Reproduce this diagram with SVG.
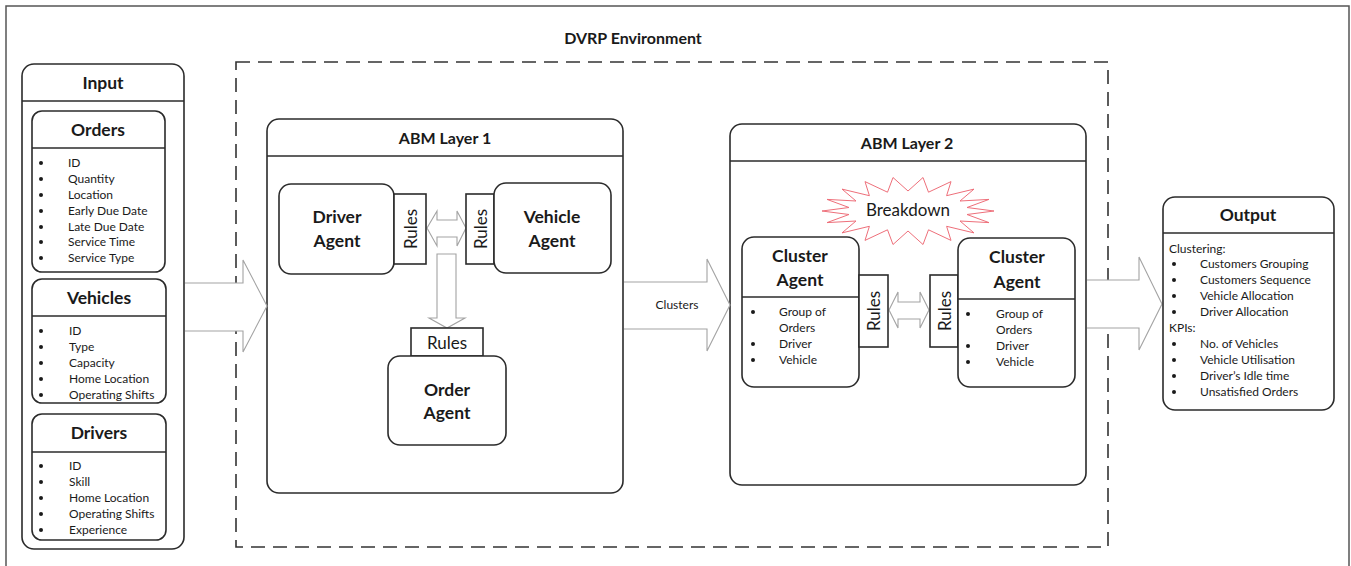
<svg xmlns="http://www.w3.org/2000/svg" width="1351" height="566" viewBox="0 0 1351 566">
<style>
.box{fill:#fff;stroke:#2b2b2b;stroke-width:1.6}
.sep{stroke:#2b2b2b;stroke-width:1.6}
.arrow{fill:#fff;stroke:#a3a3a3;stroke-width:1.1}
.t{font-family:Lato,"Open Sans","Liberation Sans",sans-serif;fill:#1a1a1a}
.h{font-size:17.5px;font-weight:bold;text-anchor:middle}
.hl{font-size:16px;font-weight:bold;text-anchor:middle}
.it{font-size:12px}
.rl{font-size:17px;text-anchor:middle;dominant-baseline:central}
.b{fill:#1a1a1a}
</style>
<rect x="6" y="6" width="1343" height="600" fill="none" stroke="#555" stroke-width="1.5"/>
<text class="t hl" x="633" y="44">DVRP Environment</text>
<rect id="env" x="236" y="62" width="872" height="485" fill="none" stroke="#333" stroke-width="1.6" stroke-dasharray="14 8"/>

<g id="input">
<rect class="box" x="22" y="64" width="162" height="485" rx="12"/>
<line class="sep" x1="22" y1="101" x2="184" y2="101"/>
<text class="t h" x="103" y="89">Input</text>
</g>

<g id="abm1">
<rect class="box" x="267" y="119" width="356" height="374" rx="12"/>
<line class="sep" x1="267" y1="156" x2="623" y2="156"/>
<text class="t hl" x="445" y="144">ABM Layer 1</text>
</g>

<g id="abm2">
<rect class="box" x="730" y="124" width="356" height="361" rx="12"/>
<line class="sep" x1="730" y1="161" x2="1086" y2="161"/>
<text class="t hl" x="907" y="149">ABM Layer 2</text>
</g>

<g id="connectors">
<path class="arrow" d="M185,283 H243 V260 L267,306 L243,352 V331 H185"/>
<path class="arrow" d="M624,282 H707 V259 L730,305 L707,351 V329 H624"/>
<text class="t" x="677" y="309" font-size="12" text-anchor="middle">Clusters</text>
<path class="arrow" d="M1087,280 H1139 V257 L1162,304 L1139,350 V328 H1087"/>
<polygon class="arrow" points="427,228 437,211 437,220 457,220 457,211 466,228 457,246 457,237 437,237 437,246"/>
<polygon class="arrow" points="437,254 456,254 456,318 465,318 447,328 429,318 437,318"/>
<polygon class="arrow" points="889,310 898,292 898,302 920,302 920,292 929,310 920,328 920,319 898,319 898,328"/>
</g>

<g id="orders">
<rect class="box" x="32" y="111" width="133" height="161" rx="10"/>
<line class="sep" x1="32" y1="148" x2="165" y2="148"/>
<text class="t h" x="98" y="136">Orders</text>
<g class="b"><circle cx="41" cy="163" r="2"/><circle cx="41" cy="179" r="2"/><circle cx="41" cy="195" r="2"/><circle cx="41" cy="211" r="2"/><circle cx="41" cy="227" r="2"/><circle cx="41" cy="242" r="2"/><circle cx="41" cy="258" r="2"/></g>
<text class="t it" x="68" y="167">ID</text>
<text class="t it" x="68" y="183">Quantity</text>
<text class="t it" x="68" y="199">Location</text>
<text class="t it" x="68" y="215">Early Due Date</text>
<text class="t it" x="68" y="231">Late Due Date</text>
<text class="t it" x="68" y="246">Service Time</text>
<text class="t it" x="68" y="262">Service Type</text>
</g>

<g id="vehicles">
<rect class="box" x="32" y="279" width="134" height="124" rx="10"/>
<line class="sep" x1="32" y1="316" x2="166" y2="316"/>
<text class="t h" x="99" y="304">Vehicles</text>
<g class="b"><circle cx="41" cy="331" r="2"/><circle cx="41" cy="347" r="2"/><circle cx="41" cy="363" r="2"/><circle cx="41" cy="379" r="2"/><circle cx="41" cy="395" r="2"/></g>
<text class="t it" x="69" y="335">ID</text>
<text class="t it" x="69" y="351">Type</text>
<text class="t it" x="69" y="367">Capacity</text>
<text class="t it" x="69" y="383">Home Location</text>
<text class="t it" x="69" y="399">Operating Shifts</text>
</g>

<g id="drivers">
<rect class="box" x="32" y="414" width="134" height="126" rx="10"/>
<line class="sep" x1="32" y1="452" x2="166" y2="452"/>
<text class="t h" x="99" y="439">Drivers</text>
<g class="b"><circle cx="41" cy="466" r="2"/><circle cx="41" cy="482" r="2"/><circle cx="41" cy="498" r="2"/><circle cx="41" cy="514" r="2"/><circle cx="41" cy="530" r="2"/></g>
<text class="t it" x="69" y="470">ID</text>
<text class="t it" x="69" y="486">Skill</text>
<text class="t it" x="69" y="502">Home Location</text>
<text class="t it" x="69" y="518">Operating Shifts</text>
<text class="t it" x="69" y="534">Experience</text>
</g>

<g id="driver-agent">
<rect class="box" x="279" y="184" width="115" height="90" rx="12"/>
<rect class="box" x="394" y="194" width="32" height="70"/>
<text class="t h" x="337" y="223">Driver</text>
<text class="t h" x="337" y="247">Agent</text>
<text class="t rl" x="410" y="229" transform="rotate(-90 410 229)">Rules</text>
</g>

<g id="vehicle-agent">
<rect class="box" x="466" y="194" width="28" height="70"/>
<rect class="box" x="494" y="183" width="117" height="90" rx="12"/>
<text class="t h" x="552" y="223">Vehicle</text>
<text class="t h" x="552" y="247">Agent</text>
<text class="t rl" x="480" y="229" transform="rotate(-90 480 229)">Rules</text>
</g>

<g id="order-agent">
<rect class="box" x="411" y="328" width="72" height="28"/>
<text class="t rl" x="447" y="342">Rules</text>
<rect class="box" x="388" y="356" width="118" height="89" rx="12"/>
<text class="t h" x="447" y="396">Order</text>
<text class="t h" x="447" y="419">Agent</text>
</g>

<g id="breakdown">
<polygon fill="#fff" stroke="#ee6f7a" stroke-width="1" points="994,211 967,214.5 989,222.6 960,221 974,232.9 946.6,226.3 951,240.4 928.5,229.8 923,244.5 908,231 893,244.5 887.5,229.8 865,240.4 869.4,226.3 842,232.9 856,221 827,222.6 849,214.5 822,211 849,207.5 827,199.4 856,201 842,189.1 869.4,195.7 865,181.6 887.5,192.2 893,177.5 908,191 923,177.5 928.5,192.2 951,181.6 946.6,195.7 974,189.1 960,201 989,199.4 967,207.5"/>
<text class="t" x="908" y="216" font-size="17" text-anchor="middle">Breakdown</text>
</g>

<g id="cluster-agent-1">
<rect class="box" x="742" y="237" width="117" height="150" rx="12"/>
<line class="sep" x1="742" y1="297" x2="859" y2="297"/>
<text class="t h" x="800" y="262">Cluster</text>
<text class="t h" x="800" y="286">Agent</text>
<g class="b"><circle cx="753" cy="312" r="2"/><circle cx="753" cy="344" r="2"/><circle cx="753" cy="360" r="2"/></g>
<text class="t it" x="779" y="316">Group of</text>
<text class="t it" x="779" y="332">Orders</text>
<text class="t it" x="779" y="348">Driver</text>
<text class="t it" x="779" y="364">Vehicle</text>
<rect class="box" x="859" y="275" width="29" height="72"/>
<text class="t rl" x="873" y="311" transform="rotate(-90 873 311)">Rules</text>
</g>

<g id="cluster-agent-2">
<rect class="box" x="930" y="275" width="28" height="72"/>
<text class="t rl" x="944" y="311" transform="rotate(-90 944 311)">Rules</text>
<rect class="box" x="958" y="238" width="117" height="149" rx="12"/>
<line class="sep" x1="958" y1="299" x2="1075" y2="299"/>
<text class="t h" x="1017" y="263">Cluster</text>
<text class="t h" x="1017" y="288">Agent</text>
<g class="b"><circle cx="968" cy="314" r="2"/><circle cx="968" cy="346" r="2"/><circle cx="968" cy="362" r="2"/></g>
<text class="t it" x="996" y="318">Group of</text>
<text class="t it" x="996" y="334">Orders</text>
<text class="t it" x="996" y="350">Driver</text>
<text class="t it" x="996" y="366">Vehicle</text>
</g>

<g id="output">
<rect class="box" x="1163" y="197" width="171" height="213" rx="12"/>
<line class="sep" x1="1163" y1="233" x2="1334" y2="233"/>
<text class="t h" x="1248" y="221">Output</text>
<text class="t it" x="1169" y="253">Clustering:</text>
<g class="b"><circle cx="1174" cy="264" r="2"/><circle cx="1174" cy="280" r="2"/><circle cx="1174" cy="296" r="2"/><circle cx="1174" cy="312" r="2"/><circle cx="1174" cy="344" r="2"/><circle cx="1174" cy="360" r="2"/><circle cx="1174" cy="376" r="2"/><circle cx="1174" cy="392" r="2"/></g>
<text class="t it" x="1200" y="268">Customers Grouping</text>
<text class="t it" x="1200" y="284">Customers Sequence</text>
<text class="t it" x="1200" y="300">Vehicle Allocation</text>
<text class="t it" x="1200" y="316">Driver Allocation</text>
<text class="t it" x="1169" y="332">KPIs:</text>
<text class="t it" x="1200" y="348">No. of Vehicles</text>
<text class="t it" x="1200" y="364">Vehicle Utilisation</text>
<text class="t it" x="1200" y="380">Driver’s Idle time</text>
<text class="t it" x="1200" y="396">Unsatisfied Orders</text>
</g>
</svg>
